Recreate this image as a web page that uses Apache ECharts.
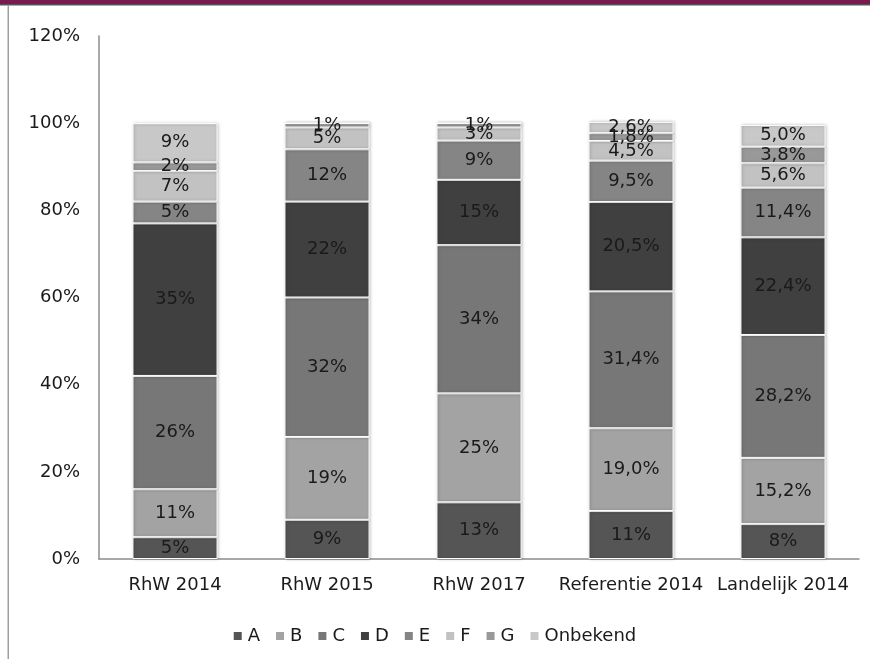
<!DOCTYPE html>
<html>
<head>
<meta charset="utf-8">
<script src="https://cdn.jsdelivr.net/npm/echarts@6/dist/echarts.min.js"></script>
<style>
html,body{margin:0;padding:0;background:#fff;}
#c{width:870px;height:659px;}
</style>
</head>
<body>
<div id="c"></div>
<script>
var categories = ['RhW 2014', 'RhW 2015', 'RhW 2017', 'Referentie 2014', 'Landelijk 2014'];
var seriesNames = ['A', 'B', 'C', 'D', 'E', 'F', 'G', 'Onbekend'];
var valA = [5, 9, 13, 11, 8];
var valB = [11, 19, 25, 19.0, 15.2];
var valC = [26, 32, 34, 31.4, 28.2];
var valD = [35, 22, 15, 20.5, 22.4];
var valE = [5, 12, 9, 9.5, 11.4];
var valF = [7, 5, 3, 4.5, 5.6];
var valG = [2, 1, 1, 1.8, 3.8];
var valOnbekend = [9, 0, 0, 2.6, 5.0];
var labelDecimals = [0, 0, 0, 1, 1];
var yTicks = [0, 20, 40, 60, 80, 100, 120];

var allValues = [valA, valB, valC, valD, valE, valF, valG, valOnbekend];
var colors = ['#555555', '#a3a3a3', '#777777', '#404040', '#858585', '#c2c2c2', '#999999', '#c8c8c8'];
var FONT = '"DejaVu Sans", Verdana, sans-serif';

var chart = echarts.init(document.getElementById('c'));
var series = seriesNames.map(function (name, si) {
  return {
    name: name,
    type: 'bar',
    stack: 'total',
    barWidth: '56%',
    data: allValues[si],
    itemStyle: {
      color: colors[si],
      borderColor: '#ffffff',
      borderWidth: 1,
      shadowColor: 'rgba(0,0,0,0.25)',
      shadowBlur: 3,
      shadowOffsetX: 1,
      shadowOffsetY: 0
    },
    label: {
      show: true,
      position: 'inside',
      color: '#1a1a1a',
      fontFamily: FONT,
      fontSize: 18,
      formatter: function (p) {
        if (!p.value) return '';
        var d = si === 0 ? 0 : labelDecimals[p.dataIndex];
        return p.value.toFixed(d).replace('.', ',') + '%';
      }
    }
  };
});

chart.setOption({
  animation: false,
  backgroundColor: '#ffffff',
  textStyle: { fontFamily: FONT },
  graphic: [
    { type: 'rect', shape: { x: 0, y: 0, width: 870, height: 4 }, style: { fill: '#7a1b4f' }, z: 100 },
    { type: 'rect', shape: { x: 0, y: 4, width: 870, height: 1.5 }, style: { fill: '#555555' }, z: 100 },
    { type: 'rect', shape: { x: 7.5, y: 5, width: 1.5, height: 654 }, style: { fill: '#a0a0a0' }, z: 100 }
  ],
  grid: { left: 99, right: 11, top: 36, bottom: 100, containLabel: false },
  legend: {
    top: 622,
    left: 'center',
    itemWidth: 8,
    itemHeight: 8,
    itemGap: 16,
    icon: 'rect',
    itemStyle: { borderWidth: 0, shadowBlur: 0, shadowOffsetX: 0 },
    textStyle: { fontSize: 18, color: '#1a1a1a', fontFamily: FONT, padding: [0, 0, 0, 1] },
    data: seriesNames
  },
  xAxis: {
    type: 'category',
    data: categories,
    axisLine: { show: true, lineStyle: { color: '#8c8c8c', width: 1.5 } },
    axisTick: { show: false },
    axisLabel: { color: '#1a1a1a', fontSize: 18, margin: 17, interval: 0, fontFamily: FONT }
  },
  yAxis: {
    type: 'value',
    min: yTicks[0],
    max: yTicks[yTicks.length - 1],
    interval: 20,
    axisLine: { show: true, lineStyle: { color: '#8c8c8c', width: 1.5 } },
    axisTick: { show: false },
    splitLine: { show: false },
    axisLabel: { color: '#1a1a1a', fontSize: 18, margin: 19, fontFamily: FONT, formatter: '{value}%' }
  },
  series: series
});
</script>
</body>
</html>
